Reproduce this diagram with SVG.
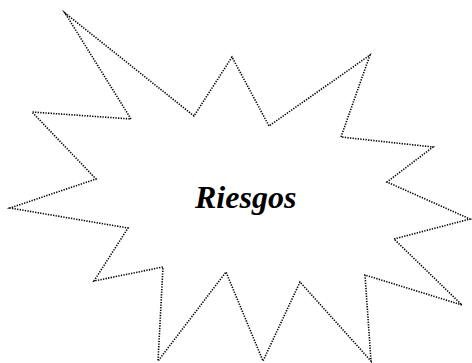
<svg xmlns="http://www.w3.org/2000/svg" width="472" height="363" viewBox="0 0 472 363">
<style>
.burst{fill:#ffffff;stroke:#000000;stroke-width:1.6;stroke-dasharray:1.3 1.3;stroke-linejoin:miter;stroke-miterlimit:20}
.lbl{font-family:"Liberation Serif","Times New Roman",serif;font-style:italic;font-weight:bold;font-size:32px;fill:#000000}
</style>
<rect width="472" height="363" fill="#ffffff"/>
<g id="riesgos">
<polygon class="burst" points="65,13 194,116 232,57 269,126 370,55 341,137 433,147 387,182 470,219 394,239 462,305 365,275 371,361 300,282 263,361 226,272 158,361 163,267 94,281 128,228 10,208 96,179 32,112 131,119"/>
<text class="lbl" x="195" y="208">Riesgos</text>
</g>
</svg>
